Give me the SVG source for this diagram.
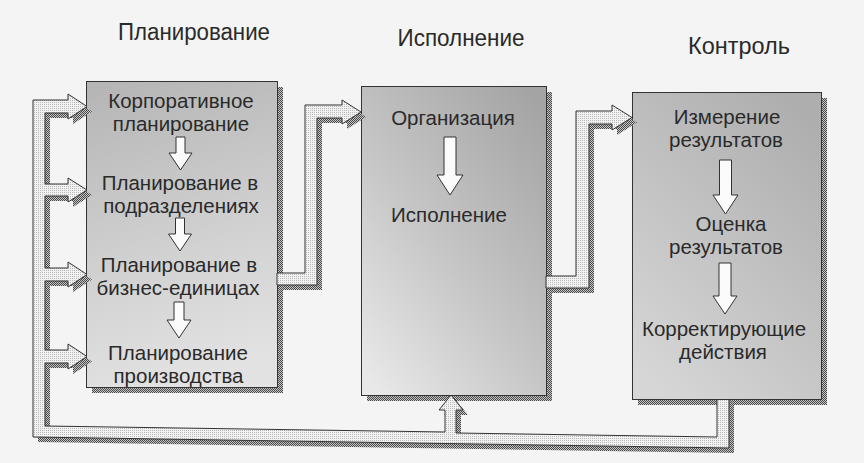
<svg xmlns="http://www.w3.org/2000/svg" width="864" height="463" viewBox="0 0 864 463">
  <defs>
    <pattern id="dk" width="2" height="2" patternUnits="userSpaceOnUse">
      <rect width="2" height="2" fill="#c4c4c4"/>
      <rect width="1" height="1" fill="#4a4a4a"/>
      <rect x="1" y="1" width="1" height="1" fill="#4a4a4a"/>
    </pattern>
    <pattern id="lt" width="2" height="2" patternUnits="userSpaceOnUse">
      <rect width="2" height="2" fill="#f2f2f2"/>
      <rect width="1" height="1" fill="#b8b8b8"/>
    </pattern>
    <linearGradient id="g1" x1="0.2" y1="0" x2="0.4" y2="1">
      <stop offset="0" stop-color="#b6b6b6"/>
      <stop offset="0.6" stop-color="#d2d2d2"/>
      <stop offset="1" stop-color="#e2e2e2"/>
    </linearGradient>
    <linearGradient id="g2" x1="0.9" y1="0" x2="0.1" y2="1">
      <stop offset="0" stop-color="#a4a4a4"/>
      <stop offset="0.55" stop-color="#c6c6c6"/>
      <stop offset="1" stop-color="#e8e8e8"/>
    </linearGradient>
    <linearGradient id="g3" x1="0.8" y1="0" x2="0.2" y2="1">
      <stop offset="0" stop-color="#aeaeae"/>
      <stop offset="1" stop-color="#d6d6d6"/>
    </linearGradient>
  </defs>
  <style>
    .box { stroke:#333; stroke-width:1; }
    .sh { fill:url(#dk); }
    .t { font-family:"Liberation Sans", Arial, sans-serif; font-size:20.5px; fill:#2a2a2a; text-anchor:middle; }
    .ttl { font-family:"Liberation Sans", Arial, sans-serif; font-size:23px; fill:#2a2a2a; text-anchor:middle; }
    .da { fill:#fbfbfb; stroke:#333; stroke-width:1; stroke-linejoin:miter; }
    .band { fill:url(#lt); stroke:#333; stroke-width:1; stroke-linejoin:miter; }
    .bsh { fill:url(#dk); }
  </style>
  <rect width="864" height="463" fill="#f4f4f4"/>

  <g id="titles">
    <text class="ttl" x="194" y="40" textLength="152" lengthAdjust="spacingAndGlyphs">Планирование</text>
    <text class="ttl" x="461" y="46" textLength="127" lengthAdjust="spacingAndGlyphs">Исполнение</text>
    <text class="ttl" x="739" y="54" textLength="102" lengthAdjust="spacingAndGlyphs">Контроль</text>
  </g>

  <g id="planning">
    <rect class="sh" x="92" y="87" width="191" height="306"/>
    <rect class="box" x="86.5" y="81.5" width="191" height="306" fill="url(#g1)"/>
    <text class="t" x="181" y="108">Корпоративное</text>
    <text class="t" x="181" y="131">планирование</text>
    <path class="da" d="M176 137 H185 V153 H192 L180.5 170 L169 153 H176 Z"/>
    <text class="t" x="180" y="190">Планирование в</text>
    <text class="t" x="181" y="213">подразделениях</text>
    <path class="da" d="M175.5 218 H184.5 V234 H191.5 L180 251 L168.5 234 H175.5 Z"/>
    <text class="t" x="179" y="272">Планирование в</text>
    <text class="t" x="178" y="295">бизнес-единицах</text>
    <path class="da" d="M174 302 H184 V320 H191 L179 338 L167 320 H174 Z"/>
    <text class="t" x="178" y="360">Планирование</text>
    <text class="t" x="178.5" y="383">производства</text>
  </g>

  <g id="execution">
    <rect class="sh" x="367" y="92" width="185" height="309"/>
    <rect class="box" x="361.5" y="86.5" width="185" height="309" fill="url(#g2)"/>
    <text class="t" x="453" y="125">Организация</text>
    <path class="da" d="M444 137 H456 V175 H463 L450 195 L437 175 H444 Z"/>
    <text class="t" x="449" y="222">Исполнение</text>
  </g>

  <g id="control">
    <rect class="sh" x="638" y="98" width="189" height="307"/>
    <rect class="box" x="632.5" y="92.5" width="189" height="307" fill="url(#g3)"/>
    <text class="t" x="727" y="124">Измерение</text>
    <text class="t" x="726" y="147">результатов</text>
    <path class="da" d="M719.5 160 H731.5 V195 H738 L725.5 214 L713 195 H719.5 Z"/>
    <text class="t" x="731" y="231">Оценка</text>
    <text class="t" x="726" y="254">результатов</text>
    <path class="da" d="M719 263 H731 V296 H737 L725 314 L713 296 H719 Z"/>
    <text class="t" x="724" y="336">Корректирующие</text>
    <text class="t" x="723" y="359">действия</text>
  </g>

  <g id="connectors">
    <g id="c-plan-exec">
      <path class="bsh" transform="translate(5,5)" d="M277 273 H305 V105 H342 V100 L361 112 L342 124 V118 H317 V285 H277 Z"/>
      <path class="band" d="M277 273 H305 V105 H342 V100 L361 112 L342 124 V118 H317 V285 H277 Z"/>
    </g>
    <g id="c-exec-control">
      <path class="bsh" transform="translate(5,5)" d="M546 276 H576 V111 H612 V105 L632 117.5 L612 130 V124 H589 V288 H546 Z"/>
      <path class="band" d="M546 276 H576 V111 H612 V105 L632 117.5 L612 130 V124 H589 V288 H546 Z"/>
    </g>
    <g id="c-feedback">
      <path class="bsh" transform="translate(5,5)" d="M33 100 H68 V94 L87 106.5 L68 119 V113 H45 V184 H68 V178 L87 190 L68 202 V196 H45 V268 H68 V262 L87 274.5 L68 287 V281 H45 V350 H68 V344 L87 356.5 L68 369 V363 H45 V426 L445 432 V410 H439 L451 395 L463 410 H456 V433 L717 437 V399.5 H729 V448 L33 437 Z"/>
      <path class="band" d="M33 100 H68 V94 L87 106.5 L68 119 V113 H45 V184 H68 V178 L87 190 L68 202 V196 H45 V268 H68 V262 L87 274.5 L68 287 V281 H45 V350 H68 V344 L87 356.5 L68 369 V363 H45 V426 L445 432 V410 H439 L451 395 L463 410 H456 V433 L717 437 V399.5 H729 V448 L33 437 Z"/>
    </g>
  </g>
</svg>
